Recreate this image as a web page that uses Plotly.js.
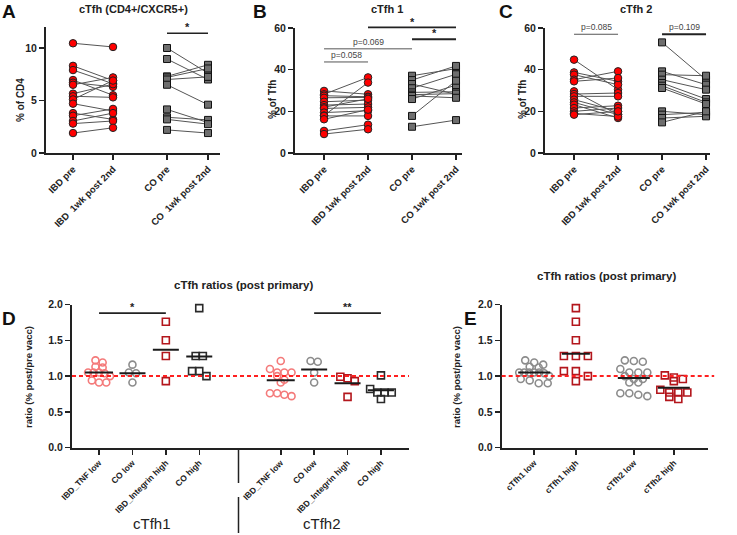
<!DOCTYPE html>
<html><head><meta charset="utf-8">
<script src="https://cdn.plot.ly/plotly-3.0.1.min.js"></script>
<style>html,body{margin:0;padding:0;background:#fff}#chart{width:737px;height:535px}</style>
</head><body><div id="chart"></div>
<script>
// ---------------- DATA ----------------
const catsA  = ['IBD pre', 'IBD\u00a0 1wk post 2nd', 'CO pre', 'CO\u00a0 1wk post 2nd'];
const catsBC = ['IBD pre', 'IBD 1wk post 2nd', 'CO pre', 'CO 1wk post 2nd'];

// Panel A: cTfh (CD4+/CXCR5+) % of CD4
const aIBDPre  = [10.45, 8.3, 7.9, 6.95, 6.7, 6.5, 5.65, 5.4, 5.1, 4.7, 3.8, 3.55, 3.05, 2.8, 1.9];
const aIBDPost = [10.1, 6.9, 6.6, 5.5, 6.3, 7.2, 6.55, 5.3, 6.9, 4.0, 3.2, 4.2, 3.8, 3.05, 2.4];
const aCOPre   = [10.0, 8.95, 7.3, 7.2, 7.0, 6.5, 4.15, 3.4, 3.2, 2.2];
const aCOPost  = [7.6, 7.0, 8.4, 8.05, 7.25, 4.6, 2.9, 3.15, 2.75, 1.9];

// Panel B: cTfh 1 % of Tfh
const bIBDPre  = [29.8, 28.2, 27.5, 26.5, 24.6, 23.0, 22.0, 21.4, 19.4, 18.0, 17.8, 16.2, 10.6, 9.1];
const bIBDPost = [28.2, 36.3, 27.0, 26.7, 25.4, 23.5, 26.0, 21.9, 20.3, 33.8, 17.8, 20.8, 13.6, 11.4];
const bCOPre   = [37.1, 35.0, 33.1, 31.1, 29.1, 28.0, 27.4, 25.9, 17.8, 12.6];
const bCOPost  = [40.5, 41.8, 28.2, 37.8, 29.4, 28.5, 26.5, 32.6, 34.7, 15.8];

// Panel C: cTfh 2 % of Tfh
const cIBDPre  = [44.8, 38.7, 37.6, 35.2, 34.4, 29.6, 28.3, 27.2, 25.6, 24.3, 23.2, 21.6, 20.0, 19.0, 18.4];
const cIBDPost = [30.4, 34.4, 32.8, 39.2, 36.0, 18.4, 28.8, 27.2, 20.0, 18.4, 16.8, 22.7, 21.6, 17.5, 20.0];
const cCOPre   = [53.1, 39.2, 37.6, 35.2, 33.6, 32.3, 31.2, 20.0, 18.4, 16.8, 14.7];
const cCOPost  = [35.2, 32.8, 37.1, 30.4, 25.9, 24.3, 23.5, 18.4, 19.5, 17.6, 20.0];

// Panel D: cTfh ratios (post primary)
const catsD = ['IBD_TNF low', 'CO low', 'IBD_Integrin high', 'CO high', 'IBD_TNF low', 'CO low', 'IBD_Integrin high', 'CO high'];
const d1TNFLow       = [1.22, 1.19, 1.13, 1.12, 1.05, 1.05, 1.05, 1.04, 1.0, 0.94, 0.91, 0.91];
const d1COLow        = [1.16, 1.05, 1.04, 0.91];
const d1IntegrinHigh = [1.76, 1.50, 1.28, 0.93];
const d1COHigh       = [1.95, 1.28, 1.28, 1.07, 1.07, 1.0];
const d2TNFLow       = [1.21, 1.10, 1.05, 1.05, 1.05, 1.0, 0.95, 0.91, 0.76, 0.76, 0.74, 0.72];
const d2COLow        = [1.21, 1.20, 1.05, 0.91];
const d2IntegrinHigh = [0.99, 0.97, 0.93, 0.71];
const d2COHigh       = [1.01, 0.82, 0.77, 0.77, 0.77, 0.68];

// Panel E
const catsE = ['cTfh1 low', 'cTfh1 high', 'cTfh2 low', 'cTfh2 high'];
const eTfh1Low  = [1.22, 1.19, 1.16, 1.13, 1.12, 1.05, 1.05, 1.05, 1.05, 1.05, 1.04, 1.0, 0.96, 0.94, 0.90, 0.90];
const eTfh1High = [1.95, 1.76, 1.50, 1.28, 1.28, 1.28, 1.07, 1.07, 1.0, 0.93];
const eTfh2Low  = [1.22, 1.21, 1.20, 1.10, 1.05, 1.05, 1.05, 1.0, 0.96, 0.96, 0.91, 0.91, 0.76, 0.76, 0.74, 0.72];
const eTfh2High = [1.01, 0.98, 0.96, 0.93, 0.81, 0.77, 0.77, 0.77, 0.71, 0.68];

// ---------------- LAYOUT HELPERS ----------------
const W = 737, H = 535;
const F = 'Liberation Sans, Arial, sans-serif';
const xd = (a, b) => [a / W, b / W];
const yd = (top, bot) => [1 - bot / H, 1 - top / H];
const px = v => v / W, py = v => 1 - v / H;

const posA = [0, 1, 2.35, 3.375];
const posBC = [0, 1, 2, 3];
const posD = [0, 1, 2, 3, 5.44, 6.44, 7.44, 8.44];
const posE = [0, 1, 2.39, 3.35];

const traces = [];

const lineCol = '#555';
const redDot = {symbol: 'circle', size: 7.5, color: '#ff0000', line: {color: '#222', width: 1}};
const greySq = {symbol: 'square', size: 7, color: '#6e6e6e', line: {color: '#111', width: 1}};

function paired(pre, post, x0, x1, xa, ya, mk) {
  const lx = [], ly = [];
  pre.forEach((v, i) => { lx.push(x0, x1, null); ly.push(v, post[i], null); });
  traces.push({type: 'scatter', mode: 'lines', x: lx, y: ly, xaxis: xa, yaxis: ya,
    line: {color: lineCol, width: 1}, hoverinfo: 'skip', showlegend: false});
  traces.push({type: 'scatter', mode: 'markers', x: pre.map(() => x0).concat(post.map(() => x1)),
    y: pre.concat(post), xaxis: xa, yaxis: ya, marker: mk, showlegend: false, cliponaxis: false});
}

paired(aIBDPre, aIBDPost, posA[0], posA[1], 'x', 'y', redDot);
paired(aCOPre, aCOPost, posA[2], posA[3], 'x', 'y', greySq);
paired(bIBDPre, bIBDPost, posBC[0], posBC[1], 'x2', 'y2', redDot);
paired(bCOPre, bCOPost, posBC[2], posBC[3], 'x2', 'y2', greySq);
paired(cIBDPre, cIBDPost, posBC[0], posBC[1], 'x3', 'y3', redDot);
paired(cCOPre, cCOPost, posBC[2], posBC[3], 'x3', 'y3', greySq);

// beeswarm-like row spreading
function swarm(vals, center, pxPerX, pxPerY, spacing, maxW) {
  const order = vals.map((v, i) => i).sort((a, b) => vals[b] - vals[a]);
  const rows = []; let row = [];
  order.forEach(i => {
    if (row.length && (vals[row[0]] - vals[i]) * pxPerY > 5) { rows.push(row); row = []; }
    row.push(i);
  });
  if (row.length) rows.push(row);
  const xs = new Array(vals.length);
  rows.forEach(r => {
    const sp = r.length > 1 ? Math.min(spacing, maxW / (r.length - 1)) : 0;
    r.forEach((i, k) => { xs[i] = center + (k - (r.length - 1) / 2) * sp / pxPerX; });
  });
  return xs;
}

const pink = '#f47a7a', grey = '#8c8c8c', dred = '#b3161c', blk = '#2a2a2a';
function mk(sym, col) { return {symbol: sym, size: 7, color: col, line: {color: col, width: 1.6}}; }

function dots(vals, center, xa, ya, pxX, marker, spacing, maxW, halfPx) {
  const xs = swarm(vals, center, pxX, 71.4, spacing, maxW);
  traces.push({type: 'scatter', mode: 'markers', x: xs, y: vals, xaxis: xa, yaxis: ya,
    marker: marker, showlegend: false, cliponaxis: false});
  const m = vals.reduce((s, v) => s + v, 0) / vals.length;
  traces.push({type: 'scatter', mode: 'lines', x: [center - halfPx / pxX, center + halfPx / pxX], y: [m, m],
    xaxis: xa, yaxis: ya, line: {color: '#1a1a1a', width: 2}, showlegend: false});
}

const pxD = 33.4, pxE = 41.7;
dots(d1TNFLow, posD[0], 'x4', 'y4', pxD, mk('circle-open', pink), 7.2, 22, 14);
dots(d1COLow, posD[1], 'x4', 'y4', pxD, mk('circle-open', grey), 7.2, 22, 13);
dots(d1IntegrinHigh, posD[2], 'x4', 'y4', pxD, mk('square-open', dred), 7.2, 22, 13);
dots(d1COHigh, posD[3], 'x4', 'y4', pxD, mk('square-open', blk), 7.2, 22, 13);
dots(d2TNFLow, posD[4], 'x4', 'y4', pxD, mk('circle-open', pink), 7.2, 22, 14);
dots(d2COLow, posD[5], 'x4', 'y4', pxD, mk('circle-open', grey), 7.2, 22, 13);
dots(d2IntegrinHigh, posD[6], 'x4', 'y4', pxD, mk('square-open', dred), 7.2, 22, 13);
dots(d2COHigh, posD[7], 'x4', 'y4', pxD, mk('square-open', blk), 7.2, 22, 13);

dots(eTfh1Low, posE[0], 'x5', 'y5', pxE, mk('circle-open', grey), 9, 30, 16);
dots(eTfh1High, posE[1], 'x5', 'y5', pxE, mk('square-open', dred), 12, 30, 14);
dots(eTfh2Low, posE[2], 'x5', 'y5', pxE, mk('circle-open', grey), 9, 30, 16);
dots(eTfh2High, posE[3], 'x5', 'y5', pxE, mk('square-open', dred), 9, 30, 16);

// ---------------- AXES ----------------
function ax(extra) {
  return Object.assign({showline: true, linecolor: '#222', linewidth: 2, ticks: 'outside', ticklen: 5,
    tickwidth: 1.5, tickcolor: '#222', showgrid: false, zeroline: false, fixedrange: true,
    tickfont: {family: F, size: 10.5, color: '#222', weight: 'bold'}}, extra);
}
const xtf = {family: F, size: 9.5, color: '#222', weight: 'bold'};
const xtfD = {family: F, size: 8.5, color: '#222', weight: 'bold'};

const layout = {
  width: W, height: H, margin: {l: 0, r: 0, t: 0, b: 0},
  paper_bgcolor: '#fff', plot_bgcolor: 'rgba(0,0,0,0)', showlegend: false,
  font: {family: F, color: '#222'},
  xaxis:  ax({domain: xd(46, 220), range: [-0.675, 3.675], anchor: 'y', tickvals: posA, ticktext: catsA, tickangle: -45, tickfont: xtf}),
  yaxis:  ax({domain: yd(27, 153), range: [0, 12], anchor: 'x', tickvals: [0, 5, 10]}),
  xaxis2: ax({domain: xd(295, 462), range: [-0.66, 3.136], anchor: 'y2', tickvals: posBC, ticktext: catsBC, tickangle: -45, tickfont: xtf}),
  yaxis2: ax({domain: yd(28, 153), range: [0, 60], anchor: 'x2', tickvals: [0, 20, 40, 60]}),
  xaxis3: ax({domain: xd(545, 710), range: [-0.66, 3.09], anchor: 'y3', tickvals: posBC, ticktext: catsBC, tickangle: -45, tickfont: xtf}),
  yaxis3: ax({domain: yd(28, 153), range: [0, 60], anchor: 'x3', tickvals: [0, 20, 40, 60]}),
  xaxis4: ax({domain: xd(72, 409), range: [-0.81, 9.28], anchor: 'y4', tickvals: posD, ticktext: catsD, tickangle: -45, tickfont: xtfD}),
  yaxis4: ax({domain: yd(304.5, 447.7), range: [0, 2.0], anchor: 'x4', tickvals: [0, 0.5, 1, 1.5, 2], tickformat: '.1f'}),
  xaxis5: ax({domain: xd(501.7, 708), range: [-0.78, 4.17], anchor: 'y5', tickvals: posE, ticktext: catsE, tickangle: -45, tickfont: xtfD}),
  yaxis5: ax({domain: yd(304.5, 447.7), range: [0, 2.0], anchor: 'x5', tickvals: [0, 0.5, 1, 1.5, 2], tickformat: '.1f'}),
  shapes: [], annotations: []
};

function bar(xa, ya, x0, x1, y, col, w) {
  layout.shapes.push({type: 'line', xref: xa, yref: ya, x0: x0, x1: x1, y0: y, y1: y, line: {color: col, width: w}});
}
function note(text, x, y, opts) {
  layout.annotations.push(Object.assign({text: text, x: x, y: y, xref: 'paper', yref: 'paper', showarrow: false,
    xanchor: 'center', yanchor: 'middle', font: {family: F, size: 11, color: '#222', weight: 'bold'}}, opts || {}));
}
function star(text, xa, ya, x, y) {
  layout.annotations.push({text: text, x: x, y: y, xref: xa, yref: ya, showarrow: false, xanchor: 'center',
    yanchor: 'bottom', yshift: -2, font: {family: F, size: 11, color: '#222', weight: 'bold'}});
}
function pval(text, xa, ya, x, y) {
  layout.annotations.push({text: text, x: x, y: y, xref: xa, yref: ya, showarrow: false, xanchor: 'center',
    yanchor: 'bottom', yshift: 0, font: {family: F, size: 8.5, color: '#444'}});
}

// significance bars
bar('x', 'y', posA[2], posA[3], 11.4, '#222', 1.6); star('*', 'x', 'y', (posA[2] + posA[3]) / 2, 11.4);
bar('x2', 'y2', 0, 1, 43.7, '#555', 1); pval('p=0.058', 'x2', 'y2', 0.5, 43.7);
bar('x2', 'y2', 0, 2, 50, '#555', 1); pval('p=0.069', 'x2', 'y2', 1, 50);
// top bar of B sits above the axis range: placed in paper space (IBD post -> CO post)
layout.shapes.push({type: 'line', xref: 'paper', yref: 'paper', x0: px(368), x1: px(456), y0: py(27.3), y1: py(27.3), line: {color: '#222', width: 1.8}});
note('*', px(412), py(21.5), {font: {family: F, size: 11, color: '#222', weight: 'bold'}});
bar('x2', 'y2', 2, 3, 54.6, '#222', 1.8); star('*', 'x2', 'y2', 2.5, 54.6);
bar('x3', 'y3', 0, 1, 57, '#555', 1); pval('p=0.085', 'x3', 'y3', 0.5, 57);
bar('x3', 'y3', 2, 3, 57, '#222', 1.8); pval('p=0.109', 'x3', 'y3', 2.5, 57);
bar('x4', 'y4', posD[0], posD[2], 1.88, '#222', 1.6); star('*', 'x4', 'y4', posD[1], 1.88);
bar('x4', 'y4', posD[5], posD[7], 1.88, '#222', 1.6); star('**', 'x4', 'y4', posD[6], 1.88);

// red dashed reference lines at 1.0
layout.shapes.push({type: 'line', xref: 'x4 domain', yref: 'y4', x0: 0, x1: 1, y0: 1, y1: 1, line: {color: '#ff2020', width: 2, dash: '4px,3px'}});
layout.shapes.push({type: 'line', xref: 'x5 domain', yref: 'y5', x0: 0, x1: 1.03, y0: 1, y1: 1, line: {color: '#ff2020', width: 2, dash: '4px,3px'}});

// separator in D
layout.shapes.push({type: 'line', xref: 'paper', yref: 'paper', x0: px(238.5), x1: px(238.5), y0: py(448), y1: py(483), line: {color: '#222', width: 1.5}});
layout.shapes.push({type: 'line', xref: 'paper', yref: 'paper', x0: px(238.5), x1: px(238.5), y0: py(497), y1: py(533), line: {color: '#222', width: 1.5}});

// panel letters
const L = {family: F, size: 19, color: '#111', weight: 'bold'};
note('A', px(9), py(11.5), {font: L});
note('B', px(260), py(11.5), {font: L});
note('C', px(506), py(11.5), {font: L});
note('D', px(9), py(318), {font: L});
note('E', px(470), py(318), {font: L});

// titles
note('cTfh (CD4+/CXCR5+)', px(133), py(9.5));
note('cTfh 1', px(387), py(9.5));
note('cTfh 2', px(636), py(9.5));
note('cTfh ratios (post primary)', px(243.5), py(285), {font: {family: F, size: 11.5, color: '#222', weight: 'bold'}});
note('cTfh ratios (post primary)', px(606), py(276), {font: {family: F, size: 11.5, color: '#222', weight: 'bold'}});

// axis titles
const at = {family: F, size: 10, color: '#222', weight: 'bold'};
note('% of CD4', px(20), py(100), {textangle: -90, font: at});
note('% of Tfh', px(272), py(100), {textangle: -90, font: at});
note('% of Tfh', px(522), py(100), {textangle: -90, font: at});
note('ratio (% post/pre vacc)', px(28), py(377), {textangle: -90, font: {family: F, size: 9.5, color: '#222', weight: 'bold'}});
note('ratio (% post/pre vacc)', px(456), py(377), {textangle: -90, font: {family: F, size: 9.5, color: '#222', weight: 'bold'}});

// group labels
note('cTfh1', px(152), py(523), {font: {family: F, size: 15, color: '#222'}});
note('cTfh2', px(322), py(523), {font: {family: F, size: 15, color: '#222'}});

Plotly.newPlot('chart', traces, layout, {displayModeBar: false, staticPlot: true});
</script>
</body></html>
